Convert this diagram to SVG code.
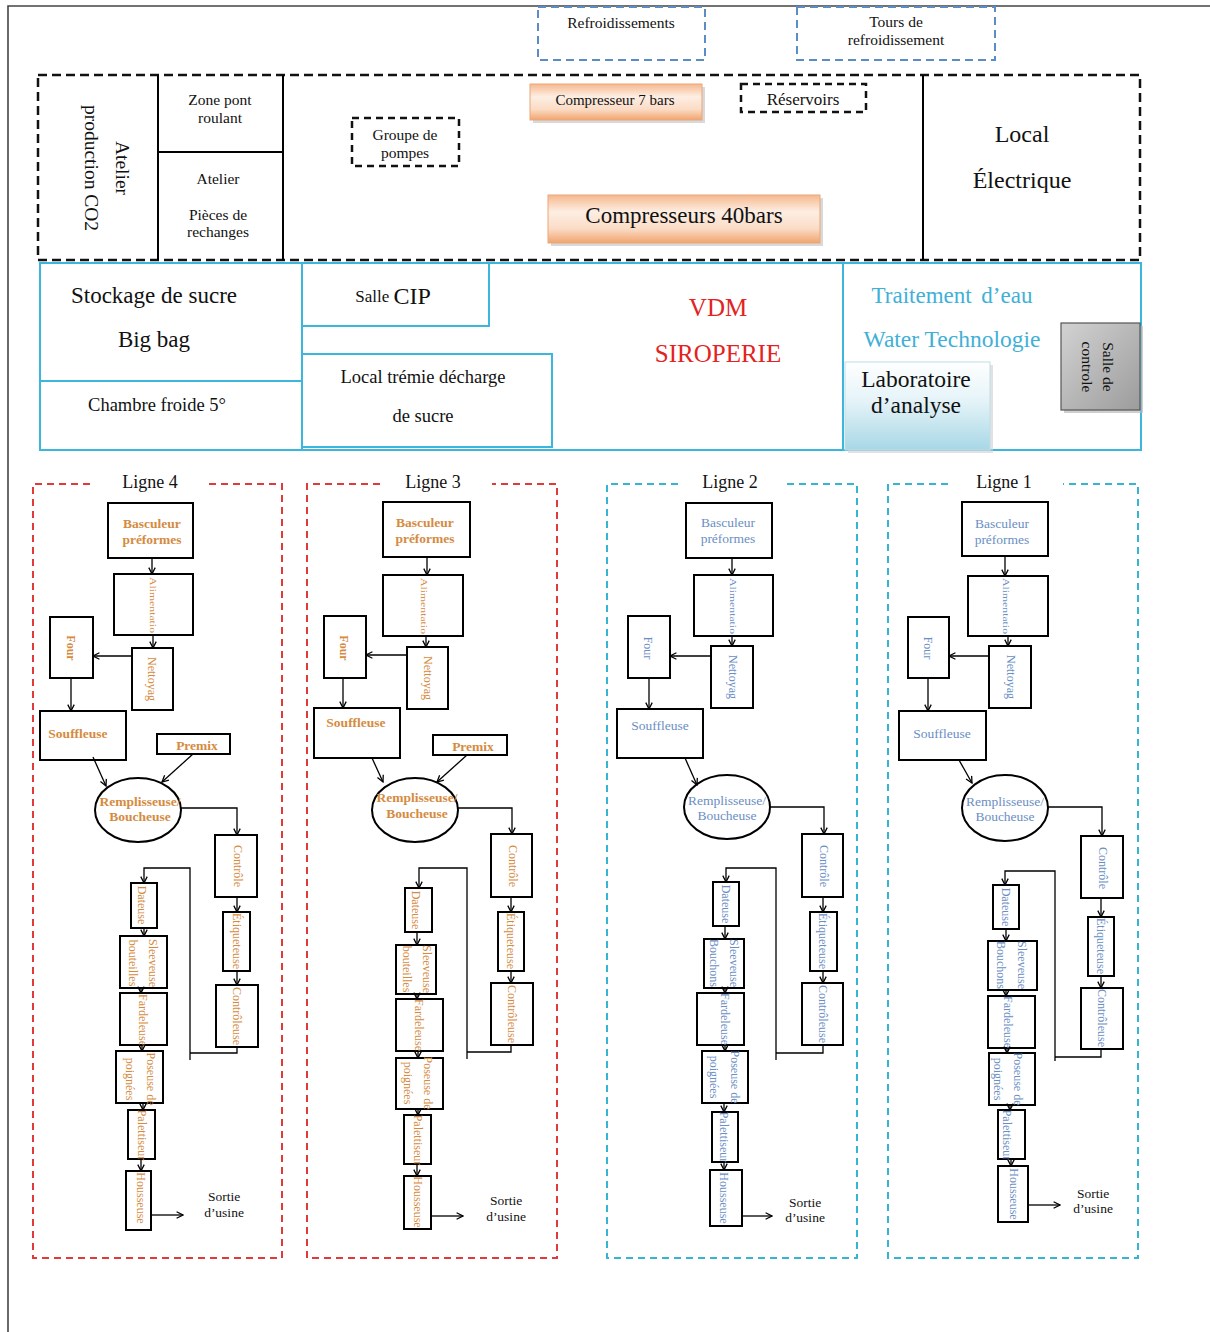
<svg xmlns="http://www.w3.org/2000/svg" width="1210" height="1332" viewBox="0 0 1210 1332">
<defs>
  <marker id="ah" viewBox="0 0 10 10" refX="9" refY="5" markerWidth="8" markerHeight="8" markerUnits="userSpaceOnUse" orient="auto">
    <path d="M1,1 L9,5 L1,9" fill="none" stroke="#000" stroke-width="1.6"/>
  </marker>
  <linearGradient id="gOrange" x1="0" y1="0" x2="0" y2="1">
    <stop offset="0" stop-color="#f6b88e"/>
    <stop offset="0.35" stop-color="#fdeee3"/>
    <stop offset="0.7" stop-color="#fbdcc6"/>
    <stop offset="1" stop-color="#f1a46e"/>
  </linearGradient>
  <linearGradient id="gLab" x1="0" y1="0" x2="0" y2="1">
    <stop offset="0" stop-color="#ffffff"/>
    <stop offset="0.45" stop-color="#e4f3f8"/>
    <stop offset="1" stop-color="#a8d7e6"/>
  </linearGradient>
  <linearGradient id="gGray" x1="0" y1="0" x2="1" y2="1">
    <stop offset="0" stop-color="#d2d2d2"/>
    <stop offset="1" stop-color="#9c9c9c"/>
  </linearGradient>
  <style>
    .t { font-family: "Liberation Serif", "Times New Roman", serif; }
    .c { text-anchor: middle; dominant-baseline: central; }
    .bx { fill: #fff; stroke: #000; stroke-width: 2; }
    .sl { fill: none; stroke: #000; stroke-width: 2; }
    .bdash { fill: none; stroke: #111; stroke-width: 2.5; stroke-dasharray: 9 5; }
    .sdash { fill: none; stroke: #5b8cc4; stroke-width: 2; stroke-dasharray: 8 5; }
    .cy { fill: none; stroke: #3cb6dc; stroke-width: 2; }
    .rdash { fill: none; stroke: #e03a3a; stroke-width: 2; stroke-dasharray: 7 5; }
    .cdash { fill: none; stroke: #36b5d3; stroke-width: 2; stroke-dasharray: 7 5; }
    .conn path { fill: none; stroke: #000; stroke-width: 1.3; }
    .conn .a { marker-end: url(#ah); }
    .o { fill: #d58b3f; }
    .b { fill: #6a8ec4; }
    .lb { font-size: 13.5px; }
    .o.lb { font-weight: bold; }
    .rt { font-size: 12px; }
    .al { font-size: 8.5px; }
    .k { fill: #111; }
  </style>
</defs>

<rect width="1210" height="1332" fill="#fff"/>
<!-- sheet border -->
<path d="M8,1332 V6 H1210" fill="none" stroke="#444" stroke-width="1.6"/>

<!-- cooling units above the building -->
<g id="refroidissements">
  <rect class="sdash" x="538" y="7" width="167" height="53"/>
  <text class="t c k" x="621" y="22" font-size="15.5">Refroidissements</text>
</g>
<g id="tours-refroidissement">
  <rect class="sdash" x="797" y="7" width="198" height="53"/>
  <text class="t c k" x="896" y="21" font-size="15.5">Tours de</text>
  <text class="t c k" x="896" y="39" font-size="15.5">refroidissement</text>
</g>

<!-- utilities block -->
<g id="bloc-utilites">
  <rect class="bdash" x="38" y="75" width="1102" height="185"/>
  <path class="sl" d="M158,75 V260 M283,75 V260 M158,152 H283 M923,75 V260"/>
</g>
<g id="atelier-co2">
  <text class="t c k" font-size="19.5" transform="translate(108,168) rotate(90)"><tspan x="0" y="-15">Atelier</tspan><tspan x="0" y="16">production CO2</tspan></text>
</g>
<g id="zone-pont">
  <text class="t c k" x="220" y="99" font-size="15.5">Zone pont</text>
  <text class="t c k" x="220" y="117" font-size="15.5">roulant</text>
</g>
<g id="atelier-pieces">
  <text class="t c k" x="218" y="178" font-size="15.5">Atelier</text>
  <text class="t c k" x="218" y="214" font-size="15.5">Pièces de</text>
  <text class="t c k" x="218" y="231" font-size="15.5">rechanges</text>
</g>
<g id="groupe-pompes">
  <rect class="bdash" x="352" y="118" width="107" height="48" style="stroke-dasharray:7 5"/>
  <text class="t c k" x="405" y="134" font-size="15.5">Groupe de</text>
  <text class="t c k" x="405" y="152" font-size="15.5">pompes</text>
</g>
<g id="compresseur-7">
  <rect x="533" y="87" width="172" height="36" fill="#c9c9c9" opacity="0.7"/>
  <rect x="530" y="84" width="172" height="36" fill="url(#gOrange)" stroke="#eba679" stroke-width="1"/>
  <text class="t c k" x="615" y="100" font-size="15">Compresseur 7 bars</text>
</g>
<g id="reservoirs">
  <rect class="bdash" x="741" y="84" width="125" height="28" style="stroke-dasharray:7 5"/>
  <text class="t c k" x="803" y="99" font-size="17">Réservoirs</text>
</g>
<g id="compresseurs-40">
  <rect x="551" y="198" width="272" height="48" fill="#c9c9c9" opacity="0.7"/>
  <rect x="548" y="195" width="272" height="48" fill="url(#gOrange)" stroke="#eba679" stroke-width="1"/>
  <text class="t c k" x="684" y="215" font-size="23">Compresseurs 40bars</text>
</g>
<g id="local-electrique">
  <text class="t c k" x="1022" y="134" font-size="24">Local</text>
  <text class="t c k" x="1022" y="180" font-size="24">Électrique</text>
</g>

<!-- process block -->
<g id="bloc-process">
  <rect class="cy" x="40" y="263" width="1101" height="187"/>
  <path class="cy" d="M302,263 V450 M40,381 H302 M843,263 V450"/>
</g>
<g id="stockage-sucre">
  <text class="t c k" x="154" y="295" font-size="23">Stockage de sucre</text>
  <text class="t c k" x="154" y="339" font-size="23">Big bag</text>
</g>
<g id="chambre-froide">
  <text class="t c k" x="157" y="405" font-size="18.5">Chambre froide 5°</text>
</g>
<g id="salle-cip">
  <rect class="cy" x="302" y="263" width="187" height="63"/>
  <text class="t c k" x="393" y="296"><tspan font-size="17">Salle </tspan><tspan font-size="24">CIP</tspan></text>
</g>
<g id="local-tremie">
  <rect class="cy" x="302" y="354" width="250" height="93"/>
  <text class="t c k" x="423" y="377" font-size="18.5">Local trémie décharge</text>
  <text class="t c k" x="423" y="416" font-size="18.5">de sucre</text>
</g>
<g id="siroperie">
  <text class="t c" x="718" y="307" font-size="25" fill="#e32222">VDM</text>
  <text class="t c" x="718" y="353" font-size="25" fill="#e32222">SIROPERIE</text>
</g>
<g id="traitement-eau">
  <text class="t c" x="952" y="295" font-size="23" fill="#3fb0d8" word-spacing="4">Traitement d’eau</text>
  <text class="t c" x="952" y="339" font-size="23.5" fill="#3fb0d8">Water Technologie</text>
</g>
<g id="laboratoire">
  <rect x="848" y="365" width="145" height="88" fill="#cfcfcf" opacity="0.6"/>
  <rect x="845" y="362" width="145" height="88" fill="url(#gLab)" stroke="#bfdde8" stroke-width="1"/>
  <text class="t c k" x="916" y="379" font-size="23.5">Laboratoire</text>
  <text class="t c k" x="916" y="405" font-size="23.5">d’analyse</text>
</g>
<g id="salle-controle">
  <rect x="1064" y="326" width="79" height="87" fill="#bbb" opacity="0.7"/>
  <rect x="1061" y="323" width="79" height="87" fill="url(#gGray)" stroke="#555" stroke-width="1.2"/>
  <text class="t c k" font-size="15.5" transform="translate(1098,367) rotate(90)"><tspan x="0" y="-11">Salle de</tspan><tspan x="0" y="10">controle</tspan></text>
</g>

<!-- production line frames -->
<g id="ligne-4">
  <path class="rdash" d="M90,484 H33 V1258 H282 V484 H207"/>
  <text class="t c k" x="150" y="482" font-size="18">Ligne 4</text>
</g>
<g id="ligne-3">
  <path class="rdash" d="M380,484 H307 V1258 H557 V484 H492"/>
  <text class="t c k" x="433" y="482" font-size="18">Ligne 3</text>
</g>
<g id="ligne-2">
  <path class="cdash" d="M678,484 H607 V1258 H857 V484 H785"/>
  <text class="t c k" x="730" y="482" font-size="18">Ligne 2</text>
</g>
<g id="ligne-1">
  <path class="cdash" d="M948,484 H888 V1258 H1138 V484 H1063"/>
  <text class="t c k" x="1004" y="482" font-size="18">Ligne 1</text>
</g>

<!-- Ligne 4 machines -->
<g id="l4-basculeur"><rect class="bx" x="108" y="503" width="85" height="55"/><text class="t c o lb" x="152" y="523">Basculeur</text><text class="t c o lb" x="152" y="539">préformes</text></g>
<g id="l4-alimentation"><rect class="bx" x="114" y="574" width="79" height="61"/><text class="t c o al" textLength="56" lengthAdjust="spacingAndGlyphs" transform="translate(153,605) rotate(90)">Alimentatio</text></g>
<g id="l4-nettoyage"><rect class="bx" x="132" y="648" width="41" height="62"/><text class="t c o rt" transform="translate(152,679) rotate(90)">Nettoyag</text></g>
<g id="l4-four"><rect class="bx" x="50" y="617" width="43" height="61"/><text class="t c o rt" font-weight="bold" transform="translate(71,648) rotate(90)">Four</text></g>
<g id="l4-souffleuse"><rect class="bx" x="40" y="711" width="86" height="49"/><text class="t c o lb" x="78" y="733">Souffleuse</text></g>
<g id="l4-premix"><rect class="bx" x="157" y="734" width="73" height="20"/><text class="t c o lb" x="197" y="745">Premix</text></g>
<g id="l4-remplisseuse"><ellipse class="bx" cx="138" cy="810" rx="43" ry="32"/><text class="t c o lb" x="140" y="801">Remplisseuse/</text><text class="t c o lb" x="140" y="816">Boucheuse</text></g>
<g id="l4-controle"><rect class="bx" x="215" y="835" width="42" height="62"/><text class="t c o rt" transform="translate(238,866) rotate(90)">Contrôle</text></g>
<g id="l4-etiqueteuse"><rect class="bx" x="223" y="912" width="27" height="59"/><text class="t c o rt" transform="translate(237,941) rotate(90)">Étiqueteuse</text></g>
<g id="l4-controleuse"><rect class="bx" x="216" y="985" width="42" height="62"/><text class="t c o rt" transform="translate(237,1016) rotate(90)">Contrôleuse</text></g>
<g id="l4-dateuse"><rect class="bx" x="131" y="883" width="26" height="45"/><text class="t c o rt" transform="translate(142,905) rotate(90)">Dateuse</text></g>
<g id="l4-sleeveuse"><rect class="bx" x="120" y="936" width="47" height="52"/><text class="t c o rt" transform="translate(143,963) rotate(90)"><tspan x="0" y="-10">Sleeveuse</tspan><tspan x="0" y="10">bouteilles</tspan></text></g>
<g id="l4-fardeleuse"><rect class="bx" x="120" y="993" width="47" height="52"/><text class="t c o rt" transform="translate(143,1020) rotate(90)">Fardeleuse</text></g>
<g id="l4-poseuse"><rect class="bx" x="116" y="1051" width="47" height="52"/><text class="t c o rt" transform="translate(140,1079) rotate(90)"><tspan x="0" y="-11">Poseuse de</tspan><tspan x="0" y="10">poignées</tspan></text></g>
<g id="l4-palettiseur"><rect class="bx" x="128" y="1110" width="27" height="49"/><text class="t c o rt" transform="translate(142,1135) rotate(90)">Palettiseur</text></g>
<g id="l4-housseuse"><rect class="bx" x="126" y="1171" width="25" height="59"/><text class="t c o rt" transform="translate(141,1198) rotate(90)">Housseuse</text></g>
<g id="l4-sortie"><text class="t c k" x="224" y="1196" font-size="13.5">Sortie</text><text class="t c k" x="224" y="1212" font-size="13.5">d’usine</text></g>

<!-- Ligne 3 machines -->
<g id="l3-basculeur"><rect class="bx" x="383" y="502" width="87" height="55"/><text class="t c o lb" x="425" y="522">Basculeur</text><text class="t c o lb" x="425" y="538">préformes</text></g>
<g id="l3-alimentation"><rect class="bx" x="383" y="575" width="80" height="61"/><text class="t c o al" textLength="56" lengthAdjust="spacingAndGlyphs" transform="translate(424,606) rotate(90)">Alimentatio</text></g>
<g id="l3-nettoyage"><rect class="bx" x="407" y="647" width="41" height="62"/><text class="t c o rt" transform="translate(428,678) rotate(90)">Nettoyag</text></g>
<g id="l3-four"><rect class="bx" x="324" y="616" width="42" height="62"/><text class="t c o rt" font-weight="bold" transform="translate(344,648) rotate(90)">Four</text></g>
<g id="l3-souffleuse"><rect class="bx" x="314" y="708" width="86" height="50"/><text class="t c o lb" x="356" y="722">Souffleuse</text></g>
<g id="l3-premix"><rect class="bx" x="433" y="735" width="74" height="20"/><text class="t c o lb" x="473" y="746">Premix</text></g>
<g id="l3-remplisseuse"><ellipse class="bx" cx="415" cy="810" rx="43" ry="32"/><text class="t c o lb" x="417" y="797">Remplisseuse/</text><text class="t c o lb" x="417" y="813">Boucheuse</text></g>
<g id="l3-controle"><rect class="bx" x="491" y="834" width="41" height="63"/><text class="t c o rt" transform="translate(513,866) rotate(90)">Contrôle</text></g>
<g id="l3-etiqueteuse"><rect class="bx" x="498" y="912" width="26" height="59"/><text class="t c o rt" transform="translate(511,941) rotate(90)">Étiqueteuse</text></g>
<g id="l3-controleuse"><rect class="bx" x="491" y="983" width="42" height="62"/><text class="t c o rt" transform="translate(512,1014) rotate(90)">Contrôleuse</text></g>
<g id="l3-dateuse"><rect class="bx" x="405" y="888" width="27" height="44"/><text class="t c o rt" transform="translate(416,910) rotate(90)">Dateuse</text></g>
<g id="l3-sleeveuse"><rect class="bx" x="396" y="945" width="40" height="49"/><text class="t c o rt" transform="translate(417,969) rotate(90)"><tspan x="0" y="-10">Sleeveuse</tspan><tspan x="0" y="10">bouteilles</tspan></text></g>
<g id="l3-fardeleuse"><rect class="bx" x="396" y="999" width="47" height="52"/><text class="t c o rt" transform="translate(419,1025) rotate(90)">Fardeleuse</text></g>
<g id="l3-poseuse"><rect class="bx" x="396" y="1058" width="47" height="51"/><text class="t c o rt" transform="translate(418,1083) rotate(90)"><tspan x="0" y="-10">Poseuse de</tspan><tspan x="0" y="10">poignées</tspan></text></g>
<g id="l3-palettiseur"><rect class="bx" x="404" y="1115" width="27" height="49"/><text class="t c o rt" transform="translate(418,1140) rotate(90)">Palettiseur</text></g>
<g id="l3-housseuse"><rect class="bx" x="404" y="1176" width="27" height="53"/><text class="t c o rt" transform="translate(418,1202) rotate(90)">Housseuse</text></g>
<g id="l3-sortie"><text class="t c k" x="506" y="1200" font-size="13.5">Sortie</text><text class="t c k" x="506" y="1216" font-size="13.5">d’usine</text></g>

<!-- Ligne 2 machines -->
<g id="l2-basculeur"><rect class="bx" x="686" y="503" width="86" height="55"/><text class="t c b lb" x="728" y="522">Basculeur</text><text class="t c b lb" x="728" y="538">préformes</text></g>
<g id="l2-alimentation"><rect class="bx" x="694" y="575" width="79" height="61"/><text class="t c b al" textLength="56" lengthAdjust="spacingAndGlyphs" transform="translate(733,606) rotate(90)">Alimentatio</text></g>
<g id="l2-nettoyage"><rect class="bx" x="711" y="646" width="42" height="62"/><text class="t c b rt" transform="translate(733,677) rotate(90)">Nettoyag</text></g>
<g id="l2-four"><rect class="bx" x="628" y="616" width="42" height="62"/><text class="t c b rt" transform="translate(648,648) rotate(90)">Four</text></g>
<g id="l2-souffleuse"><rect class="bx" x="617" y="709" width="86" height="49"/><text class="t c b lb" x="660" y="725">Souffleuse</text></g>
<g id="l2-remplisseuse"><ellipse class="bx" cx="727" cy="807" rx="43" ry="32"/><text class="t c b lb" x="727" y="800">Remplisseuse/</text><text class="t c b lb" x="727" y="815">Boucheuse</text></g>
<g id="l2-controle"><rect class="bx" x="802" y="834" width="41" height="63"/><text class="t c b rt" transform="translate(824,866) rotate(90)">Contrôle</text></g>
<g id="l2-etiqueteuse"><rect class="bx" x="810" y="912" width="27" height="59"/><text class="t c b rt" transform="translate(823,941) rotate(90)">Étiqueteuse</text></g>
<g id="l2-controleuse"><rect class="bx" x="802" y="983" width="41" height="62"/><text class="t c b rt" transform="translate(823,1014) rotate(90)">Contrôleuse</text></g>
<g id="l2-dateuse"><rect class="bx" x="713" y="882" width="26" height="44"/><text class="t c b rt" transform="translate(726,904) rotate(90)">Dateuse</text></g>
<g id="l2-sleeveuse"><rect class="bx" x="704" y="939" width="40" height="49"/><text class="t c b rt" transform="translate(724,963) rotate(90)"><tspan x="0" y="-10">Sleeveuse</tspan><tspan x="0" y="10">Bouchons</tspan></text></g>
<g id="l2-fardeleuse"><rect class="bx" x="697" y="993" width="47" height="52"/><text class="t c b rt" transform="translate(725,1019) rotate(90)">Fardeleuse</text></g>
<g id="l2-poseuse"><rect class="bx" x="702" y="1051" width="46" height="52"/><text class="t c b rt" transform="translate(724,1077) rotate(90)"><tspan x="0" y="-11">Poseuse de</tspan><tspan x="0" y="10">poignées</tspan></text></g>
<g id="l2-palettiseur"><rect class="bx" x="712" y="1112" width="26" height="50"/><text class="t c b rt" transform="translate(724,1137) rotate(90)">Palettiseur</text></g>
<g id="l2-housseuse"><rect class="bx" x="710" y="1170" width="32" height="56"/><text class="t c b rt" transform="translate(724,1198) rotate(90)">Housseuse</text></g>
<g id="l2-sortie"><text class="t c k" x="805" y="1202" font-size="13.5">Sortie</text><text class="t c k" x="805" y="1217" font-size="13.5">d’usine</text></g>

<!-- Ligne 1 machines -->
<g id="l1-basculeur"><rect class="bx" x="962" y="502" width="86" height="54"/><text class="t c b lb" x="1002" y="523">Basculeur</text><text class="t c b lb" x="1002" y="539">préformes</text></g>
<g id="l1-alimentation"><rect class="bx" x="968" y="576" width="80" height="60"/><text class="t c b al" textLength="56" lengthAdjust="spacingAndGlyphs" transform="translate(1006,606) rotate(90)">Alimentatio</text></g>
<g id="l1-nettoyage"><rect class="bx" x="989" y="646" width="42" height="62"/><text class="t c b rt" transform="translate(1011,677) rotate(90)">Nettoyag</text></g>
<g id="l1-four"><rect class="bx" x="908" y="617" width="41" height="61"/><text class="t c b rt" transform="translate(928,648) rotate(90)">Four</text></g>
<g id="l1-souffleuse"><rect class="bx" x="899" y="711" width="87" height="49"/><text class="t c b lb" x="942" y="733">Souffleuse</text></g>
<g id="l1-remplisseuse"><ellipse class="bx" cx="1005" cy="808" rx="43" ry="33"/><text class="t c b lb" x="1005" y="801">Remplisseuse/</text><text class="t c b lb" x="1005" y="816">Boucheuse</text></g>
<g id="l1-controle"><rect class="bx" x="1081" y="836" width="42" height="62"/><text class="t c b rt" transform="translate(1103,868) rotate(90)">Contrôle</text></g>
<g id="l1-etiqueteuse"><rect class="bx" x="1088" y="917" width="26" height="59"/><text class="t c b rt" transform="translate(1101,946) rotate(90)">Étiqueteuse</text></g>
<g id="l1-controleuse"><rect class="bx" x="1081" y="988" width="42" height="61"/><text class="t c b rt" transform="translate(1102,1018) rotate(90)">Contrôleuse</text></g>
<g id="l1-dateuse"><rect class="bx" x="993" y="885" width="26" height="44"/><text class="t c b rt" transform="translate(1006,907) rotate(90)">Dateuse</text></g>
<g id="l1-sleeveuse"><rect class="bx" x="988" y="941" width="49" height="49"/><text class="t c b rt" transform="translate(1011,965) rotate(90)"><tspan x="0" y="-11">Sleeveuse</tspan><tspan x="0" y="10">Bouchons</tspan></text></g>
<g id="l1-fardeleuse"><rect class="bx" x="988" y="996" width="47" height="52"/><text class="t c b rt" transform="translate(1008,1022) rotate(90)">Fardeleuse</text></g>
<g id="l1-poseuse"><rect class="bx" x="989" y="1053" width="46" height="52"/><text class="t c b rt" transform="translate(1008,1079) rotate(90)"><tspan x="0" y="-10">Poseuse de</tspan><tspan x="0" y="10">poignées</tspan></text></g>
<g id="l1-palettiseur"><rect class="bx" x="998" y="1110" width="27" height="49"/><text class="t c b rt" transform="translate(1007,1135) rotate(90)">Palettiseur</text></g>
<g id="l1-housseuse"><rect class="bx" x="998" y="1166" width="30" height="56"/><text class="t c b rt" transform="translate(1014,1194) rotate(90)">Housseuse</text></g>
<g id="l1-sortie"><text class="t c k" x="1093" y="1193" font-size="13.5">Sortie</text><text class="t c k" x="1093" y="1208" font-size="13.5">d’usine</text></g>

<!-- material flow between machines -->
<g id="connecteurs" class="conn">
  <!-- Ligne 4 -->
  <path class="a" d="M152,558 V574"/>
  <path class="a" d="M153,635 V648"/>
  <path class="a" d="M132,656 H93"/>
  <path class="a" d="M71,678 V711"/>
  <path class="a" d="M93,757 L106,786"/>
  <path class="a" d="M193,754 L162,782"/>
  <path class="a" d="M181,808 H237 V835"/>
  <path class="a" d="M237,897 V912"/>
  <path class="a" d="M237,971 V985"/>
  <path d="M237,1047 V1053 H190"/>
  <path class="a" d="M190,1060 V868 H144 V883"/>
  <path class="a" d="M144,928 V936"/>
  <path class="a" d="M141,988 V993"/>
  <path class="a" d="M142,1045 V1051"/>
  <path class="a" d="M143,1103 V1110"/>
  <path class="a" d="M141,1159 V1171"/>
  <path class="a" d="M151,1215 H183"/>
  <!-- Ligne 3 -->
  <path class="a" d="M427,557 V575"/>
  <path class="a" d="M426,636 V647"/>
  <path class="a" d="M407,655 H366"/>
  <path class="a" d="M343,678 V708"/>
  <path class="a" d="M372,758 L383,782"/>
  <path class="a" d="M467,755 L437,782"/>
  <path class="a" d="M458,808 H512 V834"/>
  <path class="a" d="M511,897 V912"/>
  <path class="a" d="M511,971 V983"/>
  <path d="M511,1045 V1052 H467"/>
  <path class="a" d="M467,1059 V868 H419 V888"/>
  <path class="a" d="M417,932 V945"/>
  <path class="a" d="M417,994 V999"/>
  <path class="a" d="M418,1051 V1058"/>
  <path class="a" d="M418,1109 V1115"/>
  <path class="a" d="M417,1164 V1176"/>
  <path class="a" d="M431,1216 H463"/>
  <!-- Ligne 2 -->
  <path class="a" d="M732,558 V575"/>
  <path class="a" d="M732,636 V646"/>
  <path class="a" d="M711,656 H670"/>
  <path class="a" d="M649,678 V709"/>
  <path class="a" d="M685,758 L697,785"/>
  <path class="a" d="M770,807 H824 V834"/>
  <path class="a" d="M823,897 V912"/>
  <path class="a" d="M823,971 V983"/>
  <path d="M823,1045 V1053 H776"/>
  <path class="a" d="M776,1060 V868 H726 V882"/>
  <path class="a" d="M725,926 V939"/>
  <path class="a" d="M725,988 V993"/>
  <path class="a" d="M725,1045 V1051"/>
  <path class="a" d="M724,1103 V1112"/>
  <path class="a" d="M724,1162 V1170"/>
  <path class="a" d="M742,1216 H772"/>
  <!-- Ligne 1 -->
  <path class="a" d="M1005,556 V576"/>
  <path class="a" d="M1008,636 V646"/>
  <path class="a" d="M989,656 H949"/>
  <path class="a" d="M928,678 V711"/>
  <path class="a" d="M959,760 L972,783"/>
  <path class="a" d="M1048,807 H1102 V836"/>
  <path class="a" d="M1101,898 V917"/>
  <path class="a" d="M1101,976 V988"/>
  <path d="M1101,1049 V1057 H1055"/>
  <path class="a" d="M1055,1061 V871 H1005 V885"/>
  <path class="a" d="M1006,929 V941"/>
  <path class="a" d="M1006,990 V996"/>
  <path class="a" d="M1007,1048 V1053"/>
  <path class="a" d="M1010,1105 V1110"/>
  <path class="a" d="M1011,1159 V1166"/>
  <path class="a" d="M1028,1205 H1060"/>
</g>
</svg>
